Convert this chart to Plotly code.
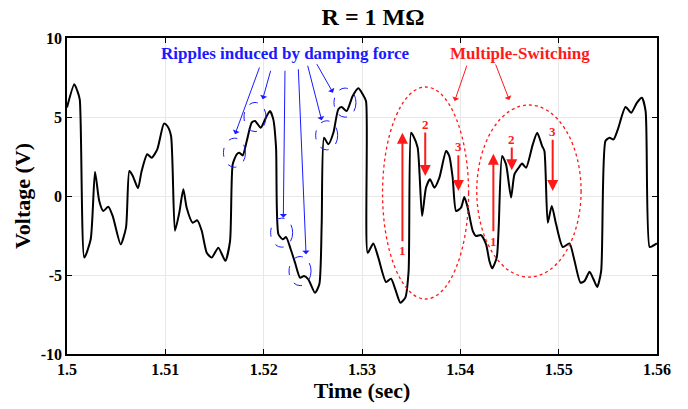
import plotly.graph_objects as go

# ---- data ----
time_s = [1.50000, 1.50074, 1.50105, 1.50130, 1.50176, 1.50241, 1.50285, 1.50328, 1.50369,
          1.50420, 1.50465, 1.50546, 1.50600, 1.50634, 1.50669, 1.50722, 1.50759, 1.50816,
          1.50861, 1.50918, 1.50986, 1.51020, 1.51058, 1.51098, 1.51142, 1.51183, 1.51217,
          1.51278, 1.51325, 1.51370, 1.51421, 1.51471, 1.51539, 1.51610, 1.51658, 1.51685,
          1.51726, 1.51753, 1.51787, 1.51828, 1.51878, 1.51912, 1.51970, 1.52014, 1.52064,
          1.52098, 1.52126, 1.52150, 1.52194, 1.52228, 1.52275, 1.52319, 1.52370, 1.52410,
          1.52454, 1.52522, 1.52566, 1.52590, 1.52614, 1.52658, 1.52709, 1.52759, 1.52793,
          1.52844, 1.52905, 1.52963, 1.53007, 1.53041, 1.53058, 1.53115, 1.53166, 1.53245,
          1.53295, 1.53339, 1.53390, 1.53441, 1.53474, 1.53499, 1.53522, 1.53566, 1.53611,
          1.53651, 1.53692, 1.53736, 1.53787, 1.53855, 1.53888, 1.53922, 1.53957, 1.54007,
          1.54041, 1.54075, 1.54126, 1.54160, 1.54211, 1.54262, 1.54295, 1.54323, 1.54370,
          1.54390, 1.54425, 1.54465, 1.54516, 1.54550, 1.54594, 1.54628, 1.54669, 1.54737,
          1.54782, 1.54832, 1.54855, 1.54889, 1.54930, 1.54974, 1.55042, 1.55110, 1.55161,
          1.55222, 1.55263, 1.55314, 1.55354, 1.55392, 1.55432, 1.55476, 1.55517, 1.55558,
          1.55602, 1.55680, 1.55738, 1.55795, 1.55846, 1.55884, 1.55925, 1.55959, 1.56000]
voltage_v = [5.6, 7.07, 6.65, 6.1, -3.9, -2.74, 1.54, -0.32, -0.95,
             -0.68, -1.27, -3.06, -2.0, 1.58, 1.27, 0.49, 1.58, 2.64,
             2.42, 2.95, 4.58, 4.43, 3.8, -2.2, -1.05, 0.42, -0.74,
             -1.69, -1.54, -2.2, -3.59, -3.9, -3.27, -4.1, -2.85, 2.0,
             2.64, 2.74, 2.57, 3.48, 4.64, 4.75, 4.32, 4.85, 5.38,
             4.85, 3.06, -2.42, -2.74, -2.6, -3.37, -4.22, -5.17, -5.06,
             -5.27, -6.12, -5.59, -1.79, 3.69, 3.27, 4.0, 5.49, 5.63,
             5.38, 6.33, 6.82, 6.44, 6.0, -3.6, -3.0, -3.9, -5.45,
             -5.23, -5.91, -6.75, -6.43, -4.75, 4.0, 3.8, 3.06, -1.27,
             0.53, 1.06, 0.53, 1.16, 2.85, 2.53, 1.16, -0.95, -0.74,
             -0.06, -0.74, -2.2, -2.53, -2.47, -3.06, -4.1, -4.58, -3.9,
             -2.0, 2.53, 2.0, -0.1, 1.37, 1.79, 2.05, 1.79, 3.27,
             4.0, 3.16, 2.85, -1.69, -0.63, -1.79, -3.23, -3.0, -4.1,
             -5.49, -5.38, -4.79, -5.27, -5.76, -4.75, 3.48, 3.69, 3.58,
             4.22, 5.63, 5.27, 5.9, 6.22, 5.38, -3.23, -3.15, -3.0]

x_ticks = [1.5, 1.51, 1.52, 1.53, 1.54, 1.55, 1.56]
x_tick_labels = ["1.5", "1.51", "1.52", "1.53", "1.54", "1.55", "1.56"]
y_ticks = [-10, -5, 0, 5, 10]
y_tick_labels = ["-10", "-5", "0", "5", "10"]

FONT = "Liberation Serif"
BLUE = "#1a1aff"
RED = "#ff1a1a"

fig = go.Figure()
fig.add_trace(go.Scatter(x=time_s, y=voltage_v, mode="lines",
                         line=dict(color="black", width=2, shape="spline", smoothing=0.6),
                         hoverinfo="skip", showlegend=False))

shapes = []
# blue ripple circles (center t, center V)
ripple_centers = [(1.51703, 2.74), (1.51912, 5.0), (1.52183, -2.32),
                  (1.52370, -4.75), (1.52641, 3.84), (1.52827, 5.91)]
for cx, cy in ripple_centers:
    shapes.append(dict(type="circle", xref="x", yref="y",
                       x0=cx - 0.00112, x1=cx + 0.00112, y0=cy - 0.92, y1=cy + 0.92,
                       line=dict(color=BLUE, width=1, dash="dash")))
# red multiple-switching ellipses
for x0, x1, y0, y1 in [(1.53209, 1.54084, -6.52, 6.90), (1.54167, 1.55228, -5.13, 5.76)]:
    shapes.append(dict(type="circle", xref="x", yref="y", x0=x0, x1=x1, y0=y0, y1=y1,
                       line=dict(color=RED, width=1.3, dash="dot")))

annotations = []
# blue arrows (tail -> head)
blue_arrows = [((1.51963, 8.23), (1.51709, 3.91)), ((1.52075, 8.02), (1.51990, 6.12)),
               ((1.52217, 8.02), (1.52200, -1.37)), ((1.52352, 8.12), (1.52431, -3.69)),
               ((1.52444, 8.34), (1.52590, 4.79)), ((1.52532, 8.44), (1.52705, 6.54))]
for (tx, ty), (hx, hy) in blue_arrows:
    annotations.append(dict(x=hx, y=hy, ax=tx, ay=ty, xref="x", yref="y", axref="x", ayref="y",
                            text="", showarrow=True, arrowhead=1, arrowsize=1.2,
                            arrowwidth=1, arrowcolor=BLUE))
# red diagonal arrows
for (tx, ty), (hx, hy) in [((1.54071, 8.34), (1.53942, 6.01)), ((1.54353, 8.42), (1.54498, 6.08))]:
    annotations.append(dict(x=hx, y=hy, ax=tx, ay=ty, xref="x", yref="y", axref="x", ayref="y",
                            text="", showarrow=True, arrowhead=1, arrowsize=1.2,
                            arrowwidth=1, arrowcolor=RED))
# red vertical switching arrows with numbers: (t, tail V, head V, label, label V)
switch_arrows = [(1.53411, -2.96, 4.01, "1", -3.48), (1.53643, 4.11, 1.27, "2", 4.54),
                 (1.53980, 2.68, 0.32, "3", 3.12), (1.54336, -2.32, 2.68, "1", -2.85),
                 (1.54523, 3.16, 1.63, "2", 3.59), (1.54939, 3.65, 0.32, "3", 4.07)]
for t, ty, hy, lab, ly in switch_arrows:
    annotations.append(dict(x=t, y=hy, ax=t, ay=ty, xref="x", yref="y", axref="x", ayref="y",
                            text="", showarrow=True, arrowhead=2, arrowsize=1.1,
                            arrowwidth=2, arrowcolor=RED))
    annotations.append(dict(x=t, y=ly, xref="x", yref="y", text="<b>%s</b>" % lab,
                            showarrow=False, font=dict(family=FONT, size=13, color=RED)))

annotations.append(dict(x=1.52220, y=9.0, xref="x", yref="y",
                        text="<b>Ripples induced by damping force</b>", showarrow=False,
                        font=dict(family=FONT, size=17, color=BLUE)))
annotations.append(dict(x=1.54611, y=9.05, xref="x", yref="y",
                        text="<b>Multiple-Switching</b>", showarrow=False,
                        font=dict(family=FONT, size=17, color=RED)))

W, H = 688, 409
fig.update_layout(
    width=W, height=H,
    margin=dict(l=67, r=31, t=38, b=55, autoexpand=False),
    paper_bgcolor="white", plot_bgcolor="white",
    font=dict(family=FONT, color="black"),
    title=dict(text="<b>R = 1 M\u03a9</b>", x=373 / W, y=1 - 17 / H,
               xref="container", yref="container", xanchor="center", yanchor="middle",
               font=dict(family=FONT, size=24, color="black")),
    shapes=shapes, annotations=annotations,
    showlegend=False, hovermode=False,
)
fig.update_xaxes(range=[1.5, 1.56], tickvals=x_ticks,
                 ticktext=["<b>%s</b>" % s for s in x_tick_labels], automargin=False,
                 showgrid=True, gridcolor="#e8e8e8", gridwidth=1, zeroline=False,
                 showline=True, linecolor="black", linewidth=1.5, mirror="ticks",
                 ticks="inside", ticklen=5, tickcolor="black",
                 tickfont=dict(family=FONT, size=16, color="black"),
                 title=dict(text="<b>Time (sec)</b>", font=dict(family=FONT, size=22), standoff=6))
fig.update_yaxes(range=[-10, 10], tickvals=y_ticks,
                 ticktext=["<b>%s</b>" % s for s in y_tick_labels], automargin=False,
                 showgrid=True, gridcolor="#e8e8e8", gridwidth=1, zeroline=False,
                 showline=True, linecolor="black", linewidth=1.5, mirror="ticks",
                 ticks="inside", ticklen=5, tickcolor="black",
                 tickfont=dict(family=FONT, size=16, color="black"),
                 title=dict(text="<b>Voltage (V)</b>", font=dict(family=FONT, size=22), standoff=4))

fig.write_html("out.html", config={"displayModeBar": False},
               post_script="document.body.style.margin='0px';")
